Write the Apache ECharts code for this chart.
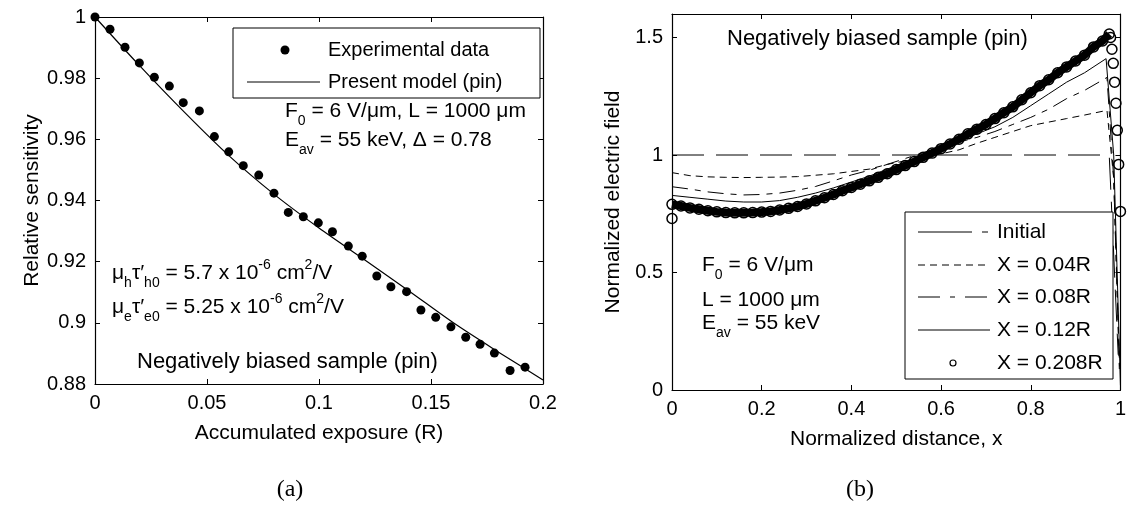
<!DOCTYPE html>
<html>
<head>
<meta charset="utf-8">
<title>Relative sensitivity / normalized electric field</title>
<script src="https://cdn.jsdelivr.net/npm/echarts@6/dist/echarts.min.js"></script>
<style>
    html, body { margin: 0; padding: 0; background: #fff; }
    #main { width: 1129px; height: 524px; }
</style>
</head>
<body>
<div id="main"></div>
<script>
//(a) 相对灵敏度 - 实验点
var expX = [0, 0.0067, 0.0134, 0.0198, 0.0265, 0.0332, 0.0394, 0.0466, 0.0533, 0.0597,
    0.0662, 0.0731, 0.0799, 0.0863, 0.093, 0.0997, 0.106, 0.1131, 0.1193, 0.1258,
    0.1321, 0.1391, 0.1455, 0.1521, 0.1589, 0.1655, 0.1719, 0.1783, 0.1853, 0.192];
var expY = [1.0, 0.996, 0.9901, 0.985, 0.9803, 0.9774, 0.972, 0.9693, 0.9609, 0.9559,
    0.9514, 0.9483, 0.9424, 0.9361, 0.9347, 0.9327, 0.9298, 0.9251, 0.9218, 0.9153,
    0.9118, 0.9102, 0.9042, 0.9018, 0.8987, 0.8953, 0.893, 0.8901, 0.8844, 0.8855];
//(a) 模型曲线
var modelX = [0, 0.02, 0.04, 0.06, 0.08, 0.1, 0.12, 0.14, 0.16, 0.18, 0.2];
var modelY = [1.0, 0.984, 0.9688, 0.9545, 0.942, 0.931, 0.9208, 0.9105, 0.9, 0.8905, 0.8813];

//(b) 归一化电场
var distX = [0, 0.04, 0.08, 0.12, 0.16, 0.2, 0.24, 0.28, 0.32, 0.36, 0.4, 0.44,
    0.48, 0.52, 0.56, 0.6, 0.64, 0.68, 0.72, 0.76, 0.8, 0.84, 0.88, 0.92];
var field004 = [0.925, 0.912, 0.907, 0.905, 0.904, 0.905, 0.906, 0.908, 0.914, 0.92, 0.93, 0.94,
    0.96, 0.975, 0.99, 1.005, 1.022, 1.05, 1.075, 1.1, 1.125, 1.14, 1.155, 1.17];
var field008 = [0.865, 0.855, 0.843, 0.835, 0.83, 0.832, 0.838, 0.85, 0.866, 0.89, 0.915, 0.935,
    0.96, 0.985, 1.01, 1.035, 1.055, 1.075, 1.1, 1.13, 1.16, 1.195, 1.24, 1.275];
var field012 = [0.828, 0.82, 0.812, 0.804, 0.8, 0.8, 0.806, 0.82, 0.838, 0.86, 0.885, 0.91,
    0.94, 0.97, 1.0, 1.03, 1.06, 1.09, 1.12, 1.16, 1.21, 1.26, 1.31, 1.35];
//靠近 x=1 的陡降段
var tail004X = [0.97, 0.985, 0.998];
var tail004Y = [1.19, 0.9, 0.1];
var tail008X = [0.97, 0.985, 0.998];
var tail008Y = [1.33, 0.9, 0.06];
var tail012X = [0.968, 0.985, 1.0];
var tail012Y = [1.41, 1.0, 0.02];
var initX = [0, 0.975, 0.995];
var initY = [1, 1, 0.15];
//X = 0.208R 圆圈
var bandX = [0, 0.02, 0.04, 0.06, 0.08, 0.1, 0.12, 0.14, 0.16, 0.18, 0.2, 0.22, 0.24, 0.26, 0.28,
    0.3, 0.32, 0.34, 0.36, 0.38, 0.4, 0.42, 0.44, 0.46, 0.48, 0.5, 0.52, 0.54, 0.56, 0.58,
    0.6, 0.62, 0.64, 0.66, 0.68, 0.7, 0.72, 0.74, 0.76, 0.78, 0.8, 0.82, 0.84, 0.86, 0.88,
    0.9, 0.92, 0.94, 0.96, 0.975];
var bandY = [0.79, 0.783, 0.775, 0.769, 0.763, 0.758, 0.755, 0.754, 0.754, 0.755, 0.757, 0.76, 0.766, 0.773, 0.781,
    0.792, 0.805, 0.818, 0.832, 0.848, 0.862, 0.876, 0.89, 0.905, 0.92, 0.938, 0.955, 0.972, 0.99, 1.008,
    1.027, 1.047, 1.067, 1.09, 1.11, 1.13, 1.155, 1.18, 1.205, 1.235, 1.265, 1.295, 1.32, 1.35, 1.375,
    1.4, 1.425, 1.46, 1.485, 1.515];
var dropX = [0, 0.978, 0.981, 0.984, 0.987, 0.99, 0.993, 0.996, 1.0];
var dropY = [0.73, 1.5, 1.45, 1.39, 1.31, 1.22, 1.105, 0.96, 0.76];

var FONT = '"Liberation Sans", Arial, "DejaVu Sans", sans-serif';
var TXT = 21;
var myChart = echarts.init(document.getElementById('main'), null, {renderer: 'canvas'});

function pairs(xs, ys) {
    var out = [];
    for (var i = 0; i < xs.length; i++) {
        out.push([xs[i], ys[i]]);
    }
    return out;
}

//坐标轴（四边都有刻度，像 matlab 的 box）
function axis(grid, pos, min, max, interval, name, gap) {
    var a = {
        gridIndex: grid,
        type: 'value',
        position: pos,
        min: min,
        max: max,
        interval: interval,
        axisLine: {onZero: false, lineStyle: {color: '#000', width: 1.2}},
        axisTick: {inside: true, length: 5, lineStyle: {color: '#000', width: 1}},
        axisLabel: {show: false},
        splitLine: {show: false}
    };
    if (name) {
        a.axisLabel = {
            show: true, color: '#000', fontSize: 20, fontFamily: FONT,
            margin: 9, showMaxLabel: max === 1.6 ? false : null
        };
        a.name = name;
        a.nameLocation = 'middle';
        a.nameGap = gap;
        a.nameTextStyle = {color: '#000', fontSize: TXT, fontFamily: FONT};
    }
    return a;
}

function richText(x, y, text, size) {
    return {
        type: 'text', x: x, y: y, z: 100,
        style: {
            text: text, fill: '#000', align: 'left', verticalAlign: 'middle',
            fontSize: size || TXT, fontFamily: FONT,
            rich: {
                s: {fontSize: 14, fontFamily: FONT, fill: '#000', padding: [20, 0, 0, 0]},
                p: {fontSize: 14, fontFamily: FONT, fill: '#000', padding: [0, 0, 16, 0]}
            }
        }
    };
}

function legendLine(x1, x2, y, dash) {
    return {
        type: 'line', z: 101,
        shape: {x1: x1, y1: y, x2: x2, y2: y},
        style: {stroke: '#000', lineWidth: 1, lineDash: dash || null}
    };
}

var option = {
    animation: false,
    backgroundColor: '#fff',
    grid: [
        {left: 95, top: 17, width: 448, height: 367},
        {left: 672, top: 14, width: 450, height: 376}
    ],
    xAxis: [
        axis(0, 'bottom', 0, 0.2, 0.05, 'Accumulated exposure (R)', 39),
        axis(0, 'top', 0, 0.2, 0.05),
        axis(1, 'bottom', 0, 1, 0.2, 'Normalized distance, x', 39),
        axis(1, 'top', 0, 1, 0.2)
    ],
    yAxis: [
        axis(0, 'left', 0.88, 1, 0.02, 'Relative sensitivity', 52),
        axis(0, 'right', 0.88, 1, 0.02),
        axis(1, 'left', 0, 1.6, 0.5, 'Normalized electric field', 48),
        axis(1, 'right', 0, 1.6, 0.5)
    ],
    series: [
        {
            name: 'Present model (pin)', type: 'line', xAxisIndex: 0, yAxisIndex: 0,
            data: pairs(modelX, modelY), showSymbol: false, smooth: 0.3,
            lineStyle: {color: '#000', width: 1.2}
        },
        {
            name: 'Experimental data', type: 'scatter', xAxisIndex: 0, yAxisIndex: 0,
            data: pairs(expX, expY), symbolSize: 9, itemStyle: {color: '#000', opacity: 1}
        },
        {
            name: 'Initial', type: 'line', xAxisIndex: 2, yAxisIndex: 2,
            data: pairs(initX, initY), showSymbol: false,
            lineStyle: {color: '#000', width: 1, type: [32, 12]}
        },
        {
            name: 'X = 0.04R', type: 'line', xAxisIndex: 2, yAxisIndex: 2,
            data: pairs(distX.concat(tail004X), field004.concat(tail004Y)), showSymbol: false,
            lineStyle: {color: '#000', width: 1, type: [7, 5]}
        },
        {
            name: 'X = 0.08R', type: 'line', xAxisIndex: 2, yAxisIndex: 2,
            data: pairs(distX.concat(tail008X), field008.concat(tail008Y)), showSymbol: false,
            lineStyle: {color: '#000', width: 1, type: [16, 7, 6, 7]}
        },
        {
            name: 'X = 0.12R', type: 'line', xAxisIndex: 2, yAxisIndex: 2,
            data: pairs(distX.concat(tail012X), field012.concat(tail012Y)), showSymbol: false,
            lineStyle: {color: '#000', width: 1}
        },
        {
            name: 'X = 0.208R band', type: 'line', xAxisIndex: 2, yAxisIndex: 2,
            data: pairs(bandX, bandY), showSymbol: false,
            lineStyle: {color: '#000', width: 8}
        },
        {
            name: 'X = 0.208R', type: 'scatter', xAxisIndex: 2, yAxisIndex: 2,
            data: pairs(bandX, bandY).concat(pairs(dropX, dropY)), symbol: 'circle', symbolSize: 10,
            itemStyle: {color: 'rgba(0,0,0,0)', borderColor: '#000', borderWidth: 1.5, opacity: 1}
        }
    ],
    graphic: [
        //左图图例
        {type: 'rect', z: 100, shape: {x: 233, y: 28, width: 307, height: 70},
            style: {fill: '#fff', stroke: '#000', lineWidth: 1}},
        {type: 'circle', z: 101, shape: {cx: 285, cy: 50, r: 4.5}, style: {fill: '#000'}},
        legendLine(247, 320, 82),
        richText(328, 50, 'Experimental data', 20),
        richText(328, 82, 'Present model (pin)', 20),
        //左图文字
        richText(285, 111, 'F{s|0} = 6 V/μm, L = 1000 μm'),
        richText(285, 140, 'E{s|av} = 55 keV, Δ = 0.78'),
        richText(112, 273, 'μ{s|h}τ′{s|h0} = 5.7 x 10{p|-6} cm{p|2}/V'),
        richText(112, 307, 'μ{s|e}τ′{s|e0} = 5.25 x 10{p|-6} cm{p|2}/V'),
        richText(137, 362, 'Negatively biased sample (pin)', 22),
        //右图图例
        {type: 'rect', z: 100, shape: {x: 905, y: 212, width: 208, height: 167},
            style: {fill: '#fff', stroke: '#000', lineWidth: 1}},
        legendLine(918, 990, 232, [54, 10, 6, 100]),
        legendLine(918, 990, 265, [7, 5]),
        legendLine(918, 990, 297, [22, 10, 5, 10]),
        legendLine(918, 990, 330),
        {type: 'circle', z: 101, shape: {cx: 953, cy: 363, r: 3},
            style: {fill: '#fff', stroke: '#000', lineWidth: 1.2}},
        richText(997, 232, 'Initial'),
        richText(997, 265, 'X = 0.04R'),
        richText(997, 297, 'X = 0.08R'),
        richText(997, 330, 'X = 0.12R'),
        richText(997, 363, 'X = 0.208R'),
        //右图文字
        richText(727, 39, 'Negatively biased sample (pin)', 22),
        richText(702, 265, 'F{s|0} = 6 V/μm'),
        richText(702, 300, 'L = 1000 μm'),
        richText(702, 323, 'E{s|av} = 55 keV'),
        //子图编号
        {type: 'text', x: 290, y: 490, style: {text: '(a)', fill: '#000', align: 'center',
            verticalAlign: 'middle', fontSize: 24, fontFamily: '"Liberation Serif", "Times New Roman", serif'}},
        {type: 'text', x: 860, y: 490, style: {text: '(b)', fill: '#000', align: 'center',
            verticalAlign: 'middle', fontSize: 24, fontFamily: '"Liberation Serif", "Times New Roman", serif'}}
    ]
};

myChart.setOption(option);
</script>
</body>
</html>
